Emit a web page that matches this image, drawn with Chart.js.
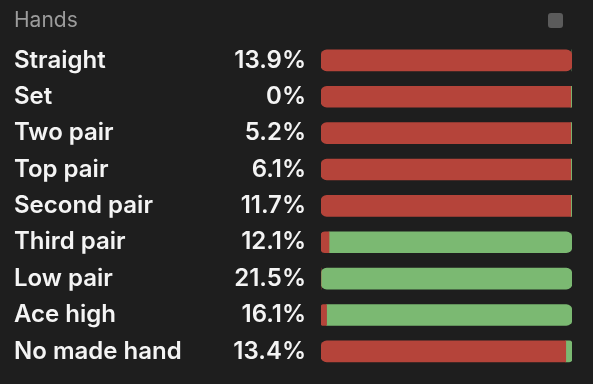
<!DOCTYPE html>
<html>
<head>
<meta charset="utf-8">
<script src="https://cdn.jsdelivr.net/npm/chart.js@4"></script>
<style>
  html, body { margin:0; padding:0; background:#1e1e1e; }
  #wrap { position:relative; width:593px; height:384px; }
  #icon { position:absolute; left:548px; top:13px; width:15px; height:15px; border-radius:3px; background:#5b5b5b; }
</style>
</head>
<body>
<div id="wrap">
  <canvas id="chart" width="593" height="384"></canvas>
  <div id="icon"></div>
</div>
<script>
// Data
const categories = ['Straight', 'Set', 'Two pair', 'Top pair', 'Second pair', 'Third pair', 'Low pair', 'Ace high', 'No made hand'];
const shares     = ['13.9%', '0%', '5.2%', '6.1%', '11.7%', '12.1%', '21.5%', '16.1%', '13.4%'];
const redPart    = [100, 99.5, 99.5, 99.5, 99.5, 3.2, 0, 2.2, 97.5];
const greenPart  = [0, 0.5, 0.5, 0.5, 0.5, 96.8, 100, 97.8, 2.5];

const FONT = 'Inter, "Noto Sans", sans-serif';

// percentages right-aligned next to the bars
const sharePlugin = {
  id: 'shares',
  afterDraw(chart) {
    const { ctx, chartArea, scales } = chart;
    ctx.save();
    ctx.font = '600 24px ' + FONT;
    ctx.fillStyle = '#f4f4f4';
    ctx.textAlign = 'right';
    ctx.textBaseline = 'middle';
    shares.forEach((s, i) => {
      ctx.fillText(s, chartArea.left - 15, scales.y.getPixelForValue(i));
    });
    ctx.restore();
  }
};

function radius(mine, other, side) {
  return ctx => {
    const i = ctx.dataIndex;
    const r = 6;
    const closeEnd = other[i] <= 0;
    if (side === 'left') {
      return { topLeft: r, bottomLeft: r, topRight: closeEnd ? r : 0, bottomRight: closeEnd ? r : 0 };
    }
    return { topRight: r, bottomRight: r, topLeft: closeEnd ? r : 0, bottomLeft: closeEnd ? r : 0 };
  };
}

new Chart(document.getElementById('chart'), {
  type: 'bar',
  data: {
    labels: categories,
    datasets: [
      { label: 'red', data: redPart, backgroundColor: '#b5443a', borderSkipped: false,
        borderRadius: radius(redPart, greenPart, 'left'), barThickness: 21 },
      { label: 'green', data: greenPart, backgroundColor: '#7bb972', borderSkipped: false,
        borderRadius: radius(greenPart, redPart, 'right'), barThickness: 21 }
    ]
  },
  options: {
    indexAxis: 'y',
    responsive: false,
    animation: false,
    layout: { padding: { left: 14, right: 21, top: 0, bottom: 7 } },
    plugins: {
      legend: { display: false },
      tooltip: { enabled: false },
      title: {
        display: true, text: 'Hands', align: 'start', color: '#9c9c9c',
        font: { family: FONT, size: 21, weight: '400' },
        padding: { top: 8, bottom: 9 }
      }
    },
    scales: {
      x: { stacked: true, min: 0, max: 100, display: false },
      y: {
        stacked: true,
        grid: { display: false, drawTicks: false },
        border: { display: false },
        ticks: {
          crossAlign: 'far', padding: 0, color: '#f4f4f4',
          font: { family: FONT, size: 24, weight: '600' }
        },
        afterFit(scale) { scale.width = 307; }
      }
    }
  },
  plugins: [sharePlugin]
});
</script>
</body>
</html>
